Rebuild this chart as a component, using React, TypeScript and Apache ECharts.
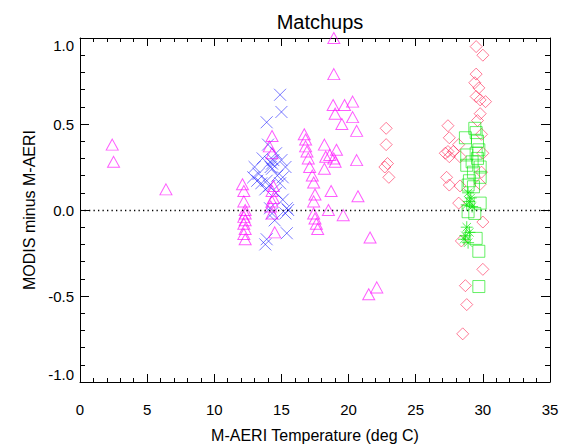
import React, { useEffect, useRef } from "react";
import * as echarts from "echarts";

const title = "Matchups";
const xName = "M-AERI Temperature (deg C)";
const yName = "MODIS minus M-AERI";
const xTicks = [0, 5, 10, 15, 20, 25, 30, 35];
const yTicks = [-1.0, -0.5, 0.0, 0.5, 1.0];

const triangles: number[][] = [
  [2.4, 0.38], [2.5, 0.28], [6.4, 0.12],
  [12.1, 0.15], [12.2, 0.11], [12.2, 0.05], [12.3, 0.0], [12.3, -0.02], [12.2, -0.04], [12.3, -0.06], [12.2, -0.08], [12.3, -0.11], [12.2, -0.14], [12.3, -0.17],
  [14.3, 0.43], [14.1, 0.37], [14.3, 0.33], [14.4, 0.14], [14.3, 0.11], [14.4, 0.07], [14.3, 0.05], [14.2, 0.02], [14.3, -0.02], [14.5, -0.13],
  [16.7, 0.44], [16.8, 0.41], [16.8, 0.37], [16.9, 0.34], [17.0, 0.3], [17.1, 0.25], [17.3, 0.2], [17.4, 0.16], [17.5, 0.09], [17.4, 0.05], [17.4, -0.02], [17.5, -0.05], [17.6, -0.08], [17.7, -0.11],
  [18.2, 0.38], [18.3, 0.31], [18.2, 0.24], [18.6, 0.32], [18.9, 0.3], [19.1, 0.35], [19.0, 0.28], [18.7, 0.11], [18.5, 0.0], [19.6, -0.03],
  [18.9, 1.0], [18.9, 0.79], [18.85, 0.61], [19.7, 0.61], [20.3, 0.63], [19.0, 0.56], [19.5, 0.5], [20.3, 0.54], [20.6, 0.46], [20.6, 0.29], [20.7, 0.08],
  [21.6, -0.16], [22.1, -0.45], [21.5, -0.49],
];

const crosses: number[][] = [
  [14.9, 0.67], [15.0, 0.57], [13.9, 0.51], [14.0, 0.38], [14.15, 0.28], [14.3, 0.27], [14.4, 0.29], [14.2, 0.25], [14.3, 0.24],
  [13.0, 0.25], [13.3, 0.21], [12.9, 0.19], [13.2, 0.17], [13.5, 0.155], [15.0, 0.29], [15.3, 0.25], [15.1, 0.19], [14.9, 0.155],
  [14.7, 0.2], [13.9, 0.17], [14.1, 0.14], [13.8, 0.12], [14.6, 0.1], [15.1, 0.06], [15.4, 0.01], [15.5, 0.0], [15.3, -0.02],
  [14.15, 0.01], [14.3, -0.02], [14.5, -0.06], [15.4, -0.135], [13.9, -0.17], [13.8, -0.2], [14.6, 0.33], [13.6, 0.3],
];

const diamonds: number[][] = [
  [22.8, 0.475], [22.8, 0.38], [22.9, 0.27], [22.7, 0.25], [23.0, 0.19],
  [27.4, 0.49], [27.5, 0.42], [27.4, 0.34], [27.5, 0.31], [27.2, 0.33], [27.8, 0.34], [28.2, 0.38], [28.3, 0.31], [27.3, 0.19], [27.5, 0.145], [28.3, 0.14], [28.2, 0.04], [28.4, -0.18], [28.7, -0.44], [28.8, -0.55], [28.5, -0.72],
  [29.5, 0.95], [30.0, 0.9], [29.5, 0.79], [29.4, 0.74], [29.7, 0.71], [29.5, 0.66], [29.8, 0.64], [30.2, 0.63], [29.8, 0.56], [29.6, 0.52], [29.9, 0.44], [30.0, 0.33], [29.9, 0.22], [29.8, 0.15], [30.0, -0.07], [30.0, -0.345],
];

const squares: number[][] = [
  [29.4, 0.475], [29.5, 0.45], [28.7, 0.42], [29.6, 0.4], [29.5, 0.33], [28.8, 0.32], [29.8, 0.25], [28.8, 0.26], [29.3, 0.22], [29.8, 0.19], [29.0, 0.17],
  [29.3, 0.135], [28.9, 0.145], [29.8, 0.04], [28.9, -0.01], [29.4, -0.02], [29.5, -0.165], [29.7, -0.24], [29.7, -0.445], [29.6, 0.3], [29.2, 0.28], [29.7, 0.35],
];

const asterisks: number[][] = [
  [28.8, -0.1], [28.7, -0.15], [29.0, -0.13], [28.9, -0.19], [29.0, 0.05], [28.8, 0.03], [29.1, 0.07], [28.9, 0.1], [29.2, 0.02], [28.6, -0.17],
];

const FONT = "'Liberation Sans', Arial, Helvetica, sans-serif";

export default function App() {
  const ref = useRef<HTMLDivElement>(null);
  useEffect(() => {
    document.body.style.margin = "0";
    const chart = echarts.init(ref.current!, null, { renderer: "svg" });
    const axisBase = {
      type: "value" as const,
      axisLine: { onZero: false, lineStyle: { color: "#000", width: 1 } },
      splitLine: { show: false },
    };
    const xCommon = {
      ...axisBase,
      min: 0,
      max: 35,
      interval: 5,
      axisTick: { show: true, inside: true, length: 8, lineStyle: { color: "#000" } },
      minorTick: { show: true, splitNumber: 5, length: 4, lineStyle: { color: "#000" } },
    };
    const yCommon = {
      ...axisBase,
      min: -1,
      max: 1,
      interval: 0.5,
      axisTick: { show: true, inside: true, length: 9, lineStyle: { color: "#000" } },
      minorTick: { show: true, splitNumber: 5, length: 5, lineStyle: { color: "#000" } },
    };
    const scatter = (data: number[][], symbol: string, size: any, color: string, z: number) => ({
      type: "scatter",
      data,
      symbol,
      symbolSize: size,
      z,
      itemStyle: { color: "none", borderColor: color, borderWidth: 1 },
      emphasis: { disabled: true },
    });
    chart.setOption({
      animation: false,
      backgroundColor: "#fff",
      textStyle: { fontFamily: FONT },
      title: {
        text: title,
        left: 315,
        textAlign: "center",
        top: 7,
        textStyle: { fontFamily: FONT, fontSize: 20, fontWeight: "normal", color: "#000" },
      },
      grid: { left: 80, right: 19, top: 38, bottom: 66 },
      xAxis: [
        {
          ...xCommon,
          position: "bottom",
          name: xName,
          nameLocation: "middle",
          nameGap: 45,
          nameTextStyle: { fontFamily: FONT, fontSize: 16, color: "#000" },
          axisLabel: {
            margin: 20,
            fontFamily: FONT,
            fontSize: 15,
            color: "#000",
            formatter: (v: number) => (xTicks.includes(v) ? String(v) : ""),
          },
        },
        { ...xCommon, position: "top", axisLabel: { show: false } },
      ],
      yAxis: [
        {
          ...yCommon,
          position: "left",
          name: yName,
          nameLocation: "middle",
          nameGap: 39,
          nameTextStyle: { fontFamily: FONT, fontSize: 16, color: "#000" },
          axisLabel: {
            margin: 6,
            fontFamily: FONT,
            fontSize: 15,
            color: "#000",
            verticalAlignMaxLabel: "top",
            verticalAlignMinLabel: "bottom",
            formatter: (v: number) => (yTicks.some((t) => Math.abs(t - v) < 1e-9) ? v.toFixed(1) : ""),
          },
        },
        { ...yCommon, position: "right", axisLabel: { show: false } },
      ],
      series: [
        {
          ...scatter(crosses, "path://M0,0L10,10M10,0L0,10", 12, "rgba(20,20,255,0.7)", 2),
          markLine: {
            silent: true,
            symbol: "none",
            label: { show: false },
            lineStyle: { color: "#000", width: 1.3, type: [1.3, 3.2] },
            data: [{ yAxis: 0 }],
          },
        },
        scatter(triangles, "triangle", [12, 11], "rgba(255,0,255,0.8)", 3),
        scatter(diamonds, "diamond", 12, "rgba(255,20,70,0.7)", 4),
        scatter(squares, "rect", 12, "rgba(0,230,0,0.75)", 5),
        scatter(asterisks, "path://M5,0L5,10M0,5L10,5M1.5,1.5L8.5,8.5M8.5,1.5L1.5,8.5", 12, "rgba(0,230,0,0.85)", 6),
      ],
    });
    return () => chart.dispose();
  }, []);
  return <div ref={ref} style={{ width: 569, height: 448 }} />;
}
